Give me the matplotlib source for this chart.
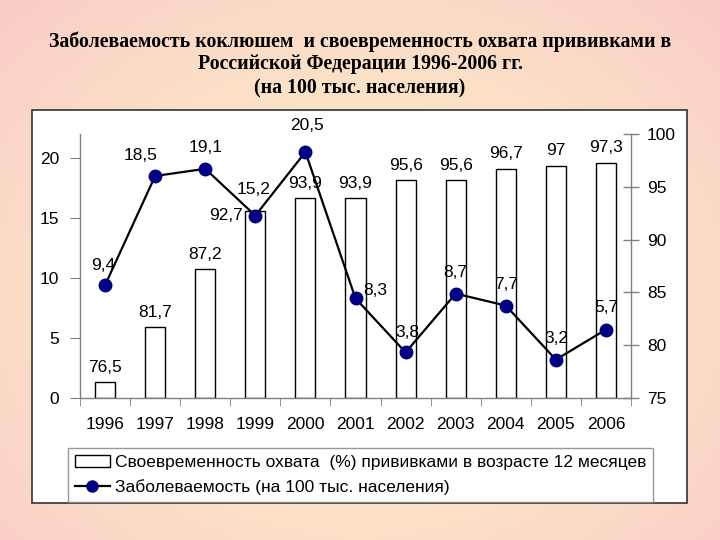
import numpy as np
import matplotlib.pyplot as plt
from matplotlib.patches import Rectangle, Patch
from matplotlib.lines import Line2D

plt.rcParams['font.family'] = ['Liberation Sans', 'DejaVu Sans']

years = ['1996', '1997', '1998', '1999', '2000', '2001',
         '2002', '2003', '2004', '2005', '2006']
# pertussis incidence per 100k (left axis)
incidence = [9.4, 18.5, 19.1, 15.2, 20.5, 8.3, 3.8, 8.7, 7.7, 3.2, 5.7]
# timely vaccination coverage at 12 months, % (right axis)
coverage = [76.5, 81.7, 87.2, 92.7, 93.9, 93.9, 95.6, 95.6, 96.7, 97.0, 97.3]

title_lines = ['Заболеваемость коклюшем  и своевременность охвата прививками в',
               'Российской Федерации 1996-2006 гг.',
               '(на 100 тыс. населения)']
bar_name = 'Своевременность охвата  (%) прививками в возрасте 12 месяцев'
line_name = 'Заболеваемость (на 100 тыс. населения)'

W, H = 720, 540


def fmt(v):
    return f'{v:g}'.replace('.', ',')


fig = plt.figure(figsize=(7.2, 5.4), dpi=100)

# background gradient
bg = fig.add_axes([0, 0, 1, 1])
yy, xx = np.mgrid[0:1:270j, 0:1:360j]
r = np.sqrt(((xx - 0.5) / 0.5) ** 2 + ((yy - 0.55) / 0.55) ** 2) / np.sqrt(2)
r = np.clip(r, 0, 1) ** 1.5
c0 = np.array([252, 238, 200]) / 255
c1 = np.array([250, 204, 198]) / 255
img = c0 + (c1 - c0) * r[..., None]
bg.imshow(img, extent=[0, 1, 0, 1], aspect='auto', origin='upper')
bg.set_xlim(0, 1)
bg.set_ylim(0, 1)
bg.axis('off')

# white chart box
bg.add_patch(Rectangle((32 / W, 1 - 503 / H), (687 - 32) / W, (503 - 110) / H,
                       facecolor='white', edgecolor='#333333', lw=1.2))

for txt, ypx in zip(title_lines, [42, 64, 88]):
    fig.text(0.5, 1 - ypx / H, txt, ha='center', va='center', fontsize=14.3,
             fontweight='bold', family=['Liberation Serif', 'DejaVu Serif'])

left, right, bottom, top = 80 / W, 631 / W, 1 - 398 / H, 1 - 134 / H
ax = fig.add_axes([left, bottom, right - left, top - bottom])
ax2 = ax.twinx()
ax.set_zorder(ax2.get_zorder() + 1)
ax.patch.set_visible(False)

x = np.arange(len(years))

# bars on right axis
ax2.bar(x, [c - 75 for c in coverage], bottom=75, width=0.4, color='white',
        edgecolor='black', lw=1)
ax2.set_ylim(75, 100)
ax2.set_yticks(range(75, 101, 5))
ax2.tick_params(axis='y', direction='inout', length=11, width=1,
                color='#808080', labelsize=12.5, pad=6)

# line on left axis
ax.plot(x, incidence, color='black', lw=1.6, marker='o', markersize=9,
        markerfacecolor='#000080', markeredgecolor='#000080')
ax.set_ylim(0, 22)
ax.set_yticks(range(0, 21, 5))
ax.set_xlim(-0.5, len(years) - 0.5)
ax.set_xticks(x)
ax.set_xticklabels(years)
ax.set_xticks(np.arange(-0.5, len(years)), minor=True)
ax.tick_params(axis='x', which='major', length=0, labelsize=12.5, pad=14)
ax.tick_params(axis='x', which='minor', length=6, color='#808080')
ax.tick_params(axis='y', direction='out', length=7, color='#808080',
               labelsize=12.5, pad=8)

for a in (ax, ax2):
    for s in a.spines.values():
        s.set_visible(False)
ax.spines['left'].set_visible(True)
ax.spines['bottom'].set_visible(True)
ax2.spines['right'].set_visible(True)
for s in (ax.spines['left'], ax.spines['bottom'], ax2.spines['right']):
    s.set_color('#808080')
    s.set_linewidth(1)

# data labels (offsets in pixels -> points)
px = 0.72
line_off = [(-2, 20), (-15, 21), (0, 21), (-2, 26), (2, 27), (20, 8),
            (2, 20), (0, 21), (0, 21), (0, 21), (0, 22)]
for i, v in enumerate(incidence):
    dx, dy = line_off[i]
    ax.annotate(fmt(v), (x[i], v), xytext=(dx * px, dy * px),
                textcoords='offset points', ha='center', va='center',
                fontsize=12.5)

for i, v in enumerate(coverage):
    if i == 3:
        ax.annotate(fmt(v), (x[i], incidence[i]), xytext=(-12 * px, 0),
                    textcoords='offset points', ha='right', va='center',
                    fontsize=12.5)
    else:
        ax2.annotate(fmt(v), (x[i], v), xytext=(0, 15 * px),
                     textcoords='offset points', ha='center', va='center',
                     fontsize=12.5)

handles = [Patch(facecolor='white', edgecolor='black', lw=1),
           Line2D([], [], color='black', lw=1.6, marker='o', markersize=8,
                  markerfacecolor='#000080', markeredgecolor='#000080')]
leg = fig.legend(handles, [bar_name, line_name], loc='upper left',
                 bbox_to_anchor=(68 / W, 1 - 448 / H), fontsize=12.5,
                 frameon=True, fancybox=False, shadow=False, borderpad=0.4,
                 handlelength=2.0, handletextpad=0.3, labelspacing=0.55,
                 borderaxespad=0)
leg.get_frame().set_edgecolor('#808080')
leg.get_frame().set_linewidth(1)

fig.savefig('out.png', dpi=100)
